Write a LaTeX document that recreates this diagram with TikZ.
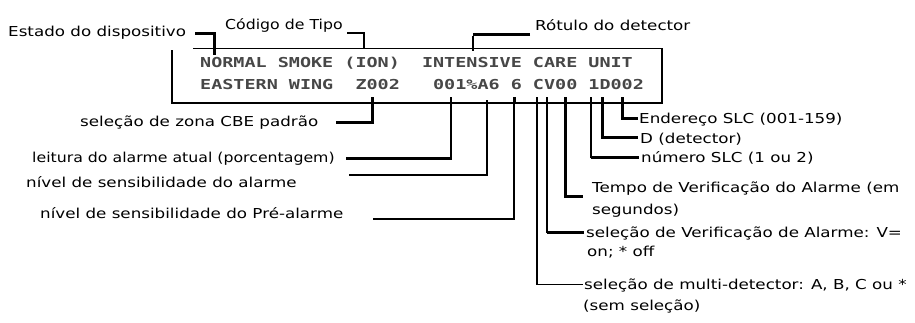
\documentclass[tikz,border=0pt]{standalone}
\usepackage{fontspec}
\newfontfamily\lblfont[FakeStretch=1.22]{DejaVu Sans}
\newfontfamily\lblfontn[FakeStretch=1.15]{DejaVu Sans}
\newfontfamily\lcdfont[FakeStretch=1.345]{DejaVu Sans Mono}
\tikzset{
  thinln/.style={line width=1.3pt},
  thickln/.style={line width=3pt},
  lbl/.style={font=\lblfont\fontsize{13.7}{16}\selectfont, inner sep=0pt, anchor=base west},
  lbln/.style={lbl, font=\lblfontn\fontsize{13.7}{16}\selectfont},
  lcd/.style={font=\lcdfont\bfseries\fontsize{13.7}{16}\selectfont, inner sep=0pt, anchor=base west, text=black!72},
}
\begin{document}
\begin{tikzpicture}[x=1pt,y=-1pt]
\useasboundingbox (0,0) rectangle (915,322);
% display box
\coordinate (b1) at (193,48.5);
\coordinate (b2) at (662,48.5);
\coordinate (b3) at (662,103);
\coordinate (b4) at (172,103);
\coordinate (b5) at (172,50);
\draw[thinln] (b1) -- (b2) -- (b3) -- (b4) -- (b5);
% display text
\node[lcd] (l1) at (200,67) {NORMAL SMOKE (ION)~~INTENSIVE CARE UNIT};
\node[lcd] (l2) at (200,89.5) {EASTERN WING~~Z002~~~001\%A6 6 CV00 1D002};
% top labels
\node[lbl] (estado) at (8,36.5) {Estado do dispositivo};
\node[lbln] (codigo) at (225,29) {Código de Tipo};
\node[lbl] (rotulo) at (535,30.5) {Rótulo do detector};
\coordinate (e1) at (195,33);  \coordinate (e2) at (214,55);
\coordinate (k1) at (347,33);  \coordinate (k2) at (364,48.5);
\coordinate (r1) at (530,34);  \coordinate (r2) at (473,51);
\draw[thickln] (e1) -| (e2);
\draw[thinln] (k1) -| (k2);
\draw[thickln] (r1) -- (r1 -| r2);
\draw[thinln] ([yshift=-1.5pt]r1 -| r2) -- (r2);
% left labels
\node[lbl] (zona) at (80,126) {seleção de zona CBE padrão};
\node[lbln] (leit) at (32,162.5) {leitura do alarme atual (porcentagem)};
\node[lbl] (sens) at (26,187) {nível de sensibilidade do alarme};
\node[lbl] (pre) at (40,218) {nível de sensibilidade do Pré-alarme};
\coordinate (z1) at (336,122); \coordinate (z2) at (372,97);
\coordinate (p1) at (346,158); \coordinate (p2) at (451,97);
\coordinate (a1) at (349,175); \coordinate (a2) at (487,100);
\coordinate (q1) at (373,219); \coordinate (q2) at (514,97);
\draw[thickln] (z1) -| (z2);
\draw[thinln] (p2) |- ([xshift=1pt]p1 -| p2);
\draw[thickln] (p1) -- ([xshift=0.65pt]p1 -| p2);
\draw[thinln] (a1) -| (a2);
\draw[thinln] (q1) -| (q2);
\draw[thickln] (q2) -- ++(0,7);
% right labels
\node[lbl] (ender) at (639,123) {Endereço SLC (001-159)};
\node[lbl] (det) at (640,143.5) {D (detector)};
\node[lbl] (num) at (641,162.5) {número SLC (1 ou 2)};
\node[lbl] (tempo) at (592,192.5) {Tempo de Verificação do Alarme (em};
\node[lbl] (seg) at (592,214.5) {segundos)};
\node[lbl] (verif) at (586,237) {seleção de Verificação de Alarme: V=};
\node[lbl] (onoff) at (587,256) {on; * off};
\node[lbl] (multi) at (584,289.5) {seleção de multi-detector: A, B, C ou *};
\node[lbl] (sem) at (583,310) {(sem seleção)};
\coordinate (n1) at (622,97); \coordinate (n2) at (638,118);
\coordinate (d1) at (602,97); \coordinate (d2) at (638,137.5);
\coordinate (s1) at (591,97); \coordinate (s2) at (639,157);
\coordinate (t1) at (565,97); \coordinate (t2) at (583,196);
\coordinate (v1) at (547,97); \coordinate (v2) at (584,232);
\coordinate (m1) at (537,97); \coordinate (m2) at (583,284.5);
\draw[thickln] (n1) |- (n2);
\draw[thickln] (d1) |- (d2);
\draw[thinln] (s1) |- (s2);
\draw[thickln] (s1 |- s2) -- (s2);
\draw[thickln] (t1) |- (t2);
\draw[thinln] (v1) |- (v2);
\draw[thickln] (v1 |- v2) -- (v2);
\draw[thinln] (m1) |- (m2);
\end{tikzpicture}
\end{document}
